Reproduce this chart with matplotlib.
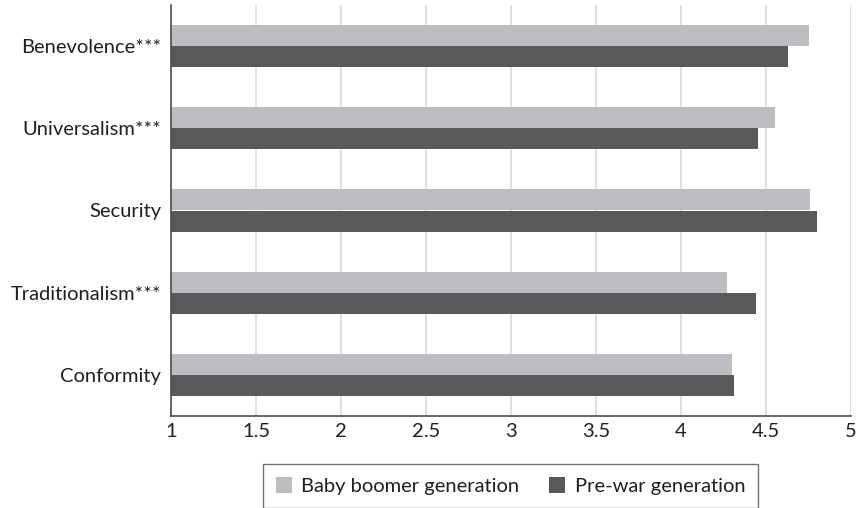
import matplotlib
matplotlib.use("Agg")
import matplotlib.pyplot as plt
import numpy as np

plt.rcParams['font.family'] = ['Lato', 'DejaVu Sans']

categories = ["Benevolence***", "Universalism***", "Security", "Traditionalism***", "Conformity"]
baby_boomer = [4.75, 4.55, 4.76, 4.27, 4.30]
pre_war = [4.63, 4.45, 4.80, 4.44, 4.31]
series_names = ["Baby boomer generation", "Pre-war generation"]
x_ticks = [1, 1.5, 2, 2.5, 3, 3.5, 4, 4.5, 5]

light = "#bcbdc0"
dark = "#58595b"

fig = plt.figure(figsize=(8.58, 5.08), dpi=100)
ax = fig.add_axes([171 / 858, 1 - 416 / 508, 680 / 858, 411 / 508])

y = np.arange(len(categories))
h = 0.256
ax.barh(y - h / 2, baby_boomer, height=h, left=0, color=light, label=series_names[0], zorder=2)
ax.barh(y + h / 2, pre_war, height=h, left=0, color=dark, label=series_names[1], zorder=2)

ax.set_xlim(1, 5)
ax.set_ylim(len(categories) - 0.5, -0.5)
ax.set_xticks(x_ticks)
ax.set_xticklabels([f"{t:g}" for t in x_ticks], fontsize=14.5, color="#231f20")
ax.set_yticks(y)
ax.set_yticklabels(categories, fontsize=14.5, color="#231f20")
ax.tick_params(axis="both", length=0, pad=5)
ax.tick_params(axis="y", pad=7)

ax.grid(True, axis="x", color="#d9d9d9", linewidth=1.2, zorder=0)
ax.set_axisbelow(True)
for s in ["top", "right"]:
    ax.spines[s].set_visible(False)
ax.spines["left"].set_color("#4d4d4f")
ax.spines["left"].set_linewidth(1.2)
ax.spines["bottom"].set_color("#4d4d4f")
ax.spines["bottom"].set_linewidth(1.2)

leg = fig.legend(loc="center", bbox_to_anchor=(510.5 / 858, 1 - 486 / 508), ncol=2,
                 fontsize=14.5, frameon=True, fancybox=False, handlelength=0.8,
                 handleheight=0.8, handletextpad=0.45, columnspacing=1.5,
                 borderpad=0.65, labelcolor="#231f20")
leg.get_frame().set_edgecolor("#4d4d4f")
leg.get_frame().set_linewidth(1.0)

fig.savefig("out.png", dpi=100)
